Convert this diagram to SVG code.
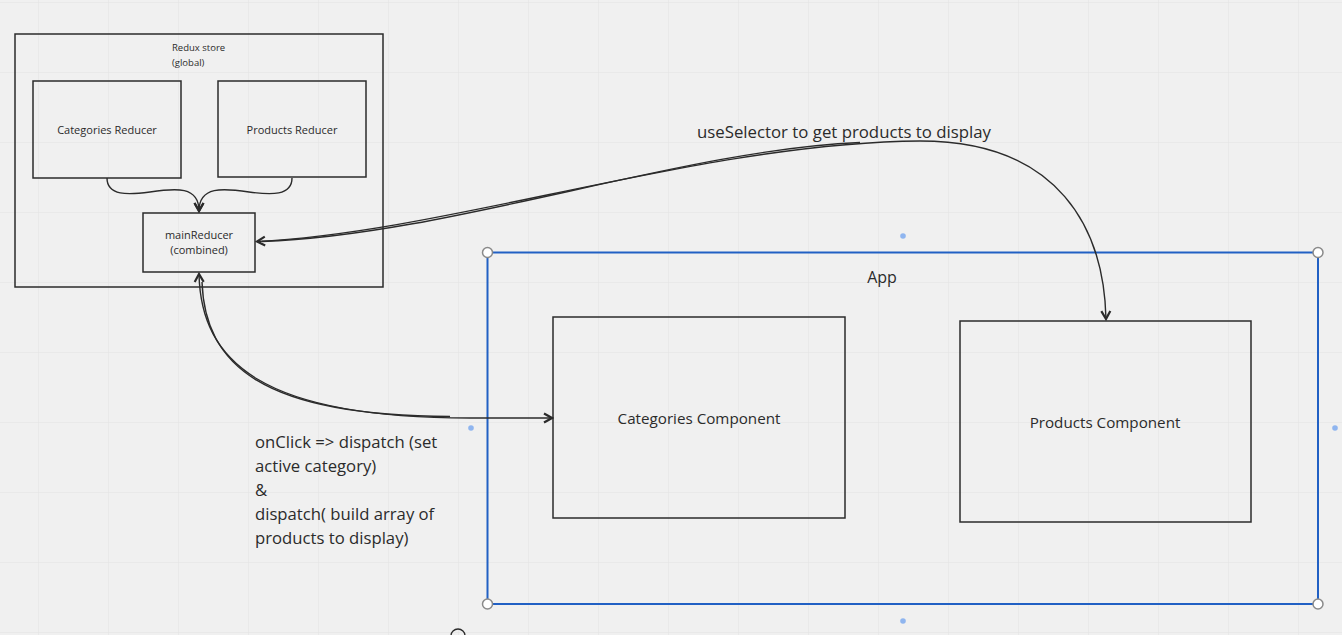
<svg xmlns="http://www.w3.org/2000/svg" width="1342" height="635" viewBox="0 0 1342 635">
<defs>
<pattern id="grid" x="38" y="2" width="70" height="70" patternUnits="userSpaceOnUse">
<path d="M0 0 H70 M0 0 V70" fill="none" stroke="#e2e2e2" stroke-width="1"/>
</pattern>
<marker id="arr" viewBox="0 0 12 12" refX="10" refY="6" markerWidth="12" markerHeight="12" markerUnits="userSpaceOnUse" orient="auto">
<path d="M2 1.5 L10 6 L2 10.5" fill="none" stroke="#2b2b2b" stroke-width="2.2" stroke-linejoin="miter"/>
</marker>
<marker id="arrs" viewBox="0 0 12 12" refX="10" refY="6" markerWidth="12" markerHeight="12" markerUnits="userSpaceOnUse" orient="auto-start-reverse">
<path d="M2 1.5 L10 6 L2 10.5" fill="none" stroke="#2b2b2b" stroke-width="2.2" stroke-linejoin="miter"/>
</marker>
</defs>
<style>
.box{fill:none;stroke:#2b2b2b;stroke-width:1.5}
.t{font-family:"Open Sans","Noto Sans",sans-serif;fill:#2b2b2b}
.c{fill:none;stroke:#2b2b2b;stroke-width:1.4}
.handle{fill:#ffffff;stroke:#8a8a8a;stroke-width:1.5}
.dot{fill:#8fb5ef}
</style>
<rect width="1342" height="635" fill="#f0f0f0"/>
<rect width="1342" height="635" fill="url(#grid)"/>

<g id="redux-store">
<rect class="box" x="15" y="34" width="368" height="253"/>
<text class="t" x="172" y="51" font-size="9.5">Redux store</text>
<text class="t" x="172" y="66" font-size="9.5">(global)</text>
</g>
<g id="categories-reducer">
<rect class="box" x="33" y="81" width="148" height="97"/>
<text class="t" x="107" y="134" font-size="11" text-anchor="middle">Categories Reducer</text>
</g>
<g id="products-reducer">
<rect class="box" x="218" y="81" width="148" height="96"/>
<text class="t" x="292" y="134" font-size="11" text-anchor="middle">Products Reducer</text>
</g>
<g id="main-reducer">
<rect class="box" x="143" y="213" width="112" height="59"/>
<text class="t" x="199" y="239" font-size="11" text-anchor="middle">mainReducer</text>
<text class="t" x="199" y="254" font-size="11" text-anchor="middle">(combined)</text>
</g>

<g id="app">
<rect x="487.5" y="252.5" width="830.5" height="351.5" fill="none" stroke="#2160c4" stroke-width="2"/>
<text class="t" x="882" y="283" font-size="16" text-anchor="middle">App</text>
<circle class="handle" cx="487.5" cy="252.5" r="5"/>
<circle class="handle" cx="1318" cy="252.5" r="5"/>
<circle class="handle" cx="487.5" cy="604" r="5"/>
<circle class="handle" cx="1318" cy="604" r="5"/>
<circle class="dot" cx="903" cy="236" r="2.8"/>
<circle class="dot" cx="471" cy="428" r="2.8"/>
<circle class="dot" cx="1335" cy="428" r="2.8"/>
<circle class="dot" cx="903" cy="621" r="2.8"/>
</g>
<g id="categories-component">
<rect class="box" x="553" y="317" width="292" height="201"/>
<text class="t" x="699" y="424" font-size="15.2" text-anchor="middle">Categories Component</text>
</g>
<g id="products-component">
<rect class="box" x="960" y="321" width="291" height="201"/>
<text class="t" x="1105" y="428" font-size="15.2" text-anchor="middle">Products Component</text>
</g>

<g id="connectors">
<path class="c" d="M107 178 C107 196, 128 195, 150 192 C 176 188, 199 186, 199 211" marker-end="url(#arr)"/>
<path class="c" d="M292 178 C292 196, 271 195, 249 192 C 223 188, 199 186, 199 211" marker-end="url(#arr)"/>
<path class="c" d="M1106 319 C1104 230, 1060 141, 920 141 C 700 143, 450 232, 257 241.5" marker-start="url(#arrs)" marker-end="url(#arr)"/>
<path class="c" d="M860 142.5 C 680 150, 450 235, 262 241.5"/>
<path class="c" d="M199 274 C201 362, 262 418, 470 418 L 552 418" marker-start="url(#arrs)" marker-end="url(#arr)"/>
<path class="c" d="M202 282 C205 365, 262 416, 450 416.5"/>
<path d="M451 636 A7 7 0 0 1 465 636" fill="none" stroke="#2b2b2b" stroke-width="1.3"/>
</g>

<g id="label-useselector">
<text class="t" x="697" y="138" font-size="16.8">useSelector to get products to display</text>
</g>
<g id="label-onclick">
<text class="t" x="255" y="448" font-size="16.7">onClick =&gt; dispatch (set</text>
<text class="t" x="255" y="472" font-size="16.7">active category)</text>
<text class="t" x="255" y="496" font-size="16.7">&amp;</text>
<text class="t" x="255" y="520" font-size="16.7">dispatch( build array of</text>
<text class="t" x="255" y="544" font-size="16.7">products to display)</text>
</g>
</svg>
